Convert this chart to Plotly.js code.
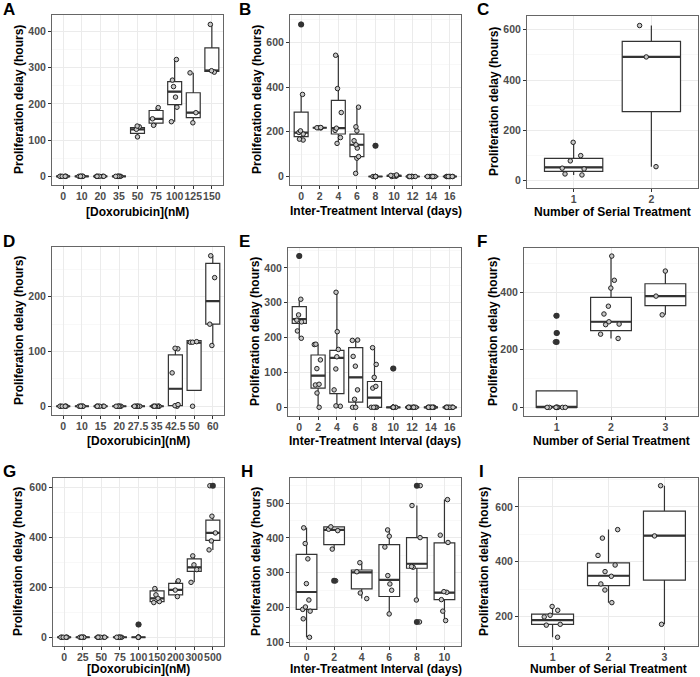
<!DOCTYPE html>
<html><head><meta charset="utf-8">
<script src="https://cdn.plot.ly/plotly-3.0.1.min.js"></script>
<style>html,body{margin:0;padding:0;background:#fff}#chart{width:700px;height:677px}</style>
</head><body><div id="chart"></div>
<script>
// ---------------- DATA ----------------
// Panel A
const catsA = ["0","10","20","35","50","75","100","125","150"];
const q1A  = [0,0,0,0,119,147,198,162,290];
const medA = [0,0,0,0,130,159,234,176,292];
const q3A  = [0,0,0,0,135,182,262,231,355];
const loA  = [0,0,0,0,109,141,151,148,288];
const hiA  = [0,0,0,0,139,190,323,286,420];
const ptsA = [[0,0,0,0,0,0],[0,0,0,0,0,0],[0,0,0,0,0,0],[0,0,0,0,0,0],
  [109,130,137,139],[141,159,190],[151,191,219,248,266,323],[148,176,286],[288,292,420]];
const outA = [[],[],[],[],[],[],[],[],[]];

// Panel B
const catsB = ["0","2","4","6","8","10","12","14","16"];
const q1B  = [178,218,190,89,0,1,0,0,0];
const medB = [196,218,216,142,0,3,0,0,0];
const q3B  = [288,218,340,189,0,5,0,0,0];
const loB  = [163,218,148,14,0,0,0,0,0];
const hiB  = [367,218,542,310,0,7,0,0,0];
const ptsB = [[163,167,190,197,204,367,680],[217,218,218,219],[148,174,206,216,286,393,542],
  [14,82,89,127,142,160,204,222,310],[0,0,0,0,0,0,0,138],[0,1,3,4,5,7],
  [0,0,0,0,0,0,0],[0,0,0,0,0,0,0],[0,0,0,0,0,0,0]];
const outB = [[680],[],[],[],[138],[],[],[],[]];

// Panel C
const catsC = ["1","2"];
const q1C  = [36,274];
const medC = [52,492];
const q3C  = [88,554];
const loC  = [22,55];
const hiC  = [152,617];
const ptsC = [[22,26,46,49,78,99,152],[55,492,617]];
const outC = [[],[]];

// Panel D
const catsD = ["0","10","15","20","27.5","35","42.5","50","60"];
const q1D  = [0,0,0,0,0,0,1,29,150];
const medD = [0,0,0,0,0,0,32,116,192];
const q3D  = [0,0,0,0,0,0,94,120,261];
const loD  = [0,0,0,0,0,0,0,29,111];
const hiD  = [0,0,0,0,0,0,105,120,275];
const ptsD = [[0,0,0,0,0,0],[0,0,0,0,0,0],[0,0,0,0,0,0],[0,0,0,0,0,0],[0,0,0,0,0,0],[0,0,0,0,0,0],
  [0,1,3,61,105,106],[0,117,117,118],[111,150,235,275]];
const outD = [[],[],[],[],[],[],[],[],[]];

// Panel E
const catsE = ["0","2","4","6","8","10","12","14","16"];
const q1E  = [241,55,39,15,0,0,0,0,0];
const medE = [253,91,142,86,28,0,0,0,0];
const q3E  = [289,150,163,171,74,0,0,0,0];
const loE  = [198,0,3,0,0,0,0,0,0];
const hiE  = [310,181,330,193,171,0,0,0,0];
const ptsE = [[198,219,245,250,265,310,434],[0,41,64,66,111,136,180,181],[3,4,50,110,145,166,217,330],
  [0,0,23,50,118,146,192,193],[0,0,0,0,55,60,86,123,171],[0,0,0,0,0,0,0,111],
  [0,0,0,0,0,0,0,0],[0,0,0,0,0,0,0,0],[0,0,0,0,0,0,0,0]];
const outE = [[434],[],[],[],[],[111],[],[],[]];

// Panel F
const catsF = ["1","2","3"];
const q1F  = [0,266,353];
const medF = [1,297,386];
const q3F  = [57,382,429];
const loF  = [0,239,321];
const hiF  = [57,525,473];
const ptsF = [[0,0,0,0,0,0,0,0,0,227,258,318],[239,254,287,289,297,324,351,414,441,525],[321,386,473]];
const outF = [[227,258,318],[],[]];

// Panel G
const catsG = ["0","25","50","75","100","150","200","300","500"];
const q1G  = [0,0,0,0,0,143,170,264,388];
const medG = [0,0,0,0,0,156,190,280,418];
const q3G  = [0,0,0,0,0,186,216,314,469];
const loG  = [0,0,0,0,0,139,163,220,350];
const hiG  = [0,0,0,0,0,195,226,326,485];
const ptsG = [[0,0,0,0,0,0],[0,0,0,0,0,0],[0,0,0,0,0,0],[0,0,0,0,0,0],[0,0,0,0,0,0,51],
  [139,143,156,170,195],[163,189,226],[220,271,290,326],[350,386,418,485,607]];
const outG = [[],[],[],[],[51],[],[],[],[607]];

// Panel H
const catsH = ["0","2","4","6","8","10"];
const q1H  = [195,381,254,232,313,223];
const medH = [245,423,301,280,326,243];
const q3H  = [353,432,308,381,401,386];
const loH  = [115,368,226,182,222,163];
const hiH  = [429,432,329,423,493,510];
const ptsH = [[115,168,190,195,202,222,269,340,384,429],[277,368,421,425,432],[226,242,303,329],
  [182,250,268,292,374,405,423],[159,222,316,318,401,493,550],[163,190,223,244,246,387,408,510]];
const outH = [[],[277],[],[],[159,550],[]];

// Panel I
const catsI = ["1","2","3"];
const q1I  = [172,313,333];
const medI = [187,349,495];
const q3I  = [209,396,584];
const loI  = [125,251,172];
const hiI  = [237,517,677];
const ptsI = [[125,169,172,199,205,223,237],[251,297,319,347,364,388,423,486,517],[172,494,677]];
const outI = [[],[],[]];

const letters = ["A","B","C","D","E","F","G","H","I"];
const xTitles = ["[Doxorubicin](nM)","Inter-Treatment Interval (days)","Number of Serial Treatment",
  "[Doxorubicin](nM)","Inter-Treatment Interval (days)","Number of Serial Treatment",
  "[Doxorubicin](nM)","Inter-Treatment Interval (days)","Number of Serial Treatment"];
const yTitle = "Proliferation delay (hours)";

// ---------------- LAYOUT (pixel geometry) ----------------
const W = 700, H = 677;
const FONT = '"Liberation Sans", Arial, Helvetica, sans-serif';
const geo = [
  {x0:52,x1:223,y0:15,y1:185, yr:[-24,446], dt:100, lx:2,  ly:9,   ytx:19,  xty:212},
  {x0:290,x1:461,y0:15,y1:185, yr:[-38,722], dt:200, lx:238,ly:9,   ytx:257, xty:211},
  {x0:527,x1:698,y0:16,y1:188, yr:[-30,655], dt:200, lx:476,ly:9,   ytx:494, xty:212},
  {x0:52,x1:224,y0:247,y1:415, yr:[-16,291], dt:100, lx:2,  ly:241, ytx:19,  xty:441},
  {x0:288,x1:461,y0:248,y1:416, yr:[-25,457], dt:100, lx:238,ly:241, ytx:255, xty:441},
  {x0:524,x1:698,y0:248,y1:416, yr:[-30,553], dt:200, lx:476,ly:241, ytx:493, xty:441},
  {x0:53,x1:224,y0:478,y1:646, yr:[-35,638], dt:200, lx:2,  ly:471, ytx:18,  xty:669},
  {x0:290,x1:461,y0:478,y1:646, yr:[90,572],  dt:100, lx:240,ly:471, ytx:256, xty:669},
  {x0:519,x1:698,y0:478,y1:646, yr:[93,705],  dt:200, lx:478,ly:471, ytx:484, xty:669}
];

const panels = [
  {cats:catsA,q1:q1A,med:medA,q3:q3A,lo:loA,hi:hiA,pts:ptsA,out:outA},
  {cats:catsB,q1:q1B,med:medB,q3:q3B,lo:loB,hi:hiB,pts:ptsB,out:outB},
  {cats:catsC,q1:q1C,med:medC,q3:q3C,lo:loC,hi:hiC,pts:ptsC,out:outC},
  {cats:catsD,q1:q1D,med:medD,q3:q3D,lo:loD,hi:hiD,pts:ptsD,out:outD},
  {cats:catsE,q1:q1E,med:medE,q3:q3E,lo:loE,hi:hiE,pts:ptsE,out:outE},
  {cats:catsF,q1:q1F,med:medF,q3:q3F,lo:loF,hi:hiF,pts:ptsF,out:outF},
  {cats:catsG,q1:q1G,med:medG,q3:q3G,lo:loG,hi:hiG,pts:ptsG,out:outG},
  {cats:catsH,q1:q1H,med:medH,q3:q3H,lo:loH,hi:hiH,pts:ptsH,out:outH},
  {cats:catsI,q1:q1I,med:medI,q3:q3I,lo:loI,hi:hiI,pts:ptsI,out:outI}
];

const traces = [];
const layout = {
  width: W, height: H, margin:{l:0,r:0,t:0,b:0},
  paper_bgcolor:'#fff', plot_bgcolor:'#fff', showlegend:false, boxmode:'overlay',
  font:{family:FONT}, annotations:[]
};
const tickFont = {family:FONT, size:10.5, color:'#4D4D4D', weight:'bold'};

panels.forEach((p,i)=>{
  const g = geo[i];
  const s = i===0 ? '' : String(i+1);
  const xa = 'x'+s, ya = 'y'+s;
  // box stats
  traces.push({type:'box', x:p.cats, q1:p.q1, median:p.med, q3:p.q3,
    lowerfence:p.lo, upperfence:p.hi, xaxis:xa, yaxis:ya, boxpoints:false,
    fillcolor:'#ffffff', line:{color:'#333333', width:1.2}, whiskerwidth:0, width:0.75,
    hoverinfo:'skip'});
  // thicker median bar (ggplot fatten)
  traces.push({type:'box', x:p.cats, q1:p.med, median:p.med, q3:p.med,
    lowerfence:p.med, upperfence:p.med, xaxis:xa, yaxis:ya, boxpoints:false,
    fillcolor:'rgba(0,0,0,0)', line:{color:'#333333', width:2.2}, whiskerwidth:0, width:0.75,
    hoverinfo:'skip'});
  // outliers
  const ox=[], oy=[];
  p.out.forEach((arr,k)=>arr.forEach(v=>{ox.push(p.cats[k]); oy.push(v);}));
  traces.push({type:'scatter', mode:'markers', x:ox, y:oy, xaxis:xa, yaxis:ya,
    marker:{size:6, color:'#333333'}, hoverinfo:'skip'});
  // jittered points
  const px=[], py=[];
  p.pts.forEach((arr,k)=>arr.forEach(v=>{px.push(p.cats[k]); py.push(v);}));
  traces.push({type:'box', x:px, y:py, xaxis:xa, yaxis:ya, boxpoints:'all', jitter:0.55,
    pointpos:0, width:0.75, fillcolor:'rgba(0,0,0,0)', line:{width:0, color:'rgba(0,0,0,0)'},
    marker:{size:4.5, color:'#c8c8c8', line:{color:'#222222', width:1}}, hoverinfo:'skip'});

  layout['xaxis'+s] = {domain:[g.x0/W, g.x1/W], anchor:ya, type:'category',
    categoryorder:'array', categoryarray:p.cats, range:[-0.6, p.cats.length-0.4],
    tickangle:0, ticklabelstandoff:-2, showgrid:true, gridcolor:'#EBEBEB', gridwidth:1,
    showline:true, mirror:true,
    linecolor:'#666666', linewidth:1, ticks:'outside', ticklen:3, tickcolor:'#333333',
    tickwidth:1, tickfont:tickFont, zeroline:false, fixedrange:true, automargin:false};
  layout['yaxis'+s] = {domain:[1-g.y1/H, 1-g.y0/H], anchor:xa, range:g.yr, tick0:0, dtick:g.dt,
    minor:{dtick:g.dt/2, tick0:0, showgrid:true, gridcolor:'#F4F4F4', gridwidth:0.6},
    showgrid:true, gridcolor:'#EBEBEB', gridwidth:1, showline:true, mirror:true,
    linecolor:'#666666', linewidth:1, ticks:'outside', ticklen:3, tickcolor:'#333333',
    tickwidth:1, tickfont:tickFont, zeroline:false, fixedrange:true, automargin:false};

  // panel letter
  layout.annotations.push({text:letters[i], xref:'paper', yref:'paper', x:g.lx/W, y:1-g.ly/H,
    xanchor:'left', yanchor:'middle', showarrow:false, borderpad:0,
    font:{family:FONT, size:17, color:'#000', weight:'bold'}});
  // y title
  layout.annotations.push({text:yTitle, xref:'paper', yref:'paper', x:g.ytx/W,
    y:1-((g.y0+g.y1)/2)/H, xanchor:'center', yanchor:'middle', textangle:-90, showarrow:false,
    font:{family:FONT, size:12, color:'#000', weight:'bold'}});
  // x title
  layout.annotations.push({text:xTitles[i], xref:'paper', yref:'paper', x:((g.x0+g.x1)/2)/W,
    y:1-g.xty/H, xanchor:'center', yanchor:'middle', showarrow:false, borderpad:0,
    font:{family:FONT, size:12, color:'#000', weight:'bold'}});
});

Plotly.newPlot('chart', traces, layout, {displayModeBar:false, staticPlot:true});
</script></body></html>
